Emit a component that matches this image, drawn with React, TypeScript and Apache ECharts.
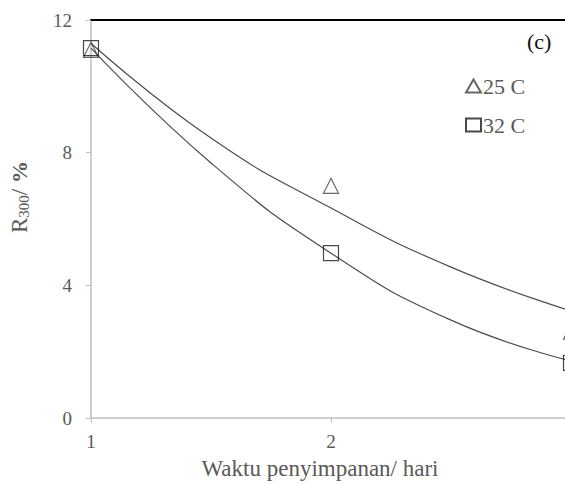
import React, { useEffect, useRef } from "react";
import * as echarts from "echarts";

const days = [1, 2, 3];
const r25 = [11.1, 7.0, 2.6];
const r32 = [11.15, 4.97, 1.66];
const fitX = [1, 1.5, 2, 2.5, 3];
const fit25 = [11.3, 8.44, 6.33, 4.55, 3.23];
const fit32 = [11.15, 7.69, 4.97, 2.95, 1.72];
const yTicks = [0, 4, 8, 12];

const FONT = "'Liberation Serif', 'Times New Roman', serif";
const GRAY = "#595959";

export default function App() {
  const ref = useRef<HTMLDivElement>(null);
  useEffect(() => {
    if (!ref.current) return;
    const chart = echarts.init(ref.current, undefined, { renderer: "svg" });
    const pts = (xs: number[], ys: number[]) => xs.map((x, i) => [x, ys[i]]);
    chart.setOption({
      animation: false,
      backgroundColor: "#ffffff",
      textStyle: { fontFamily: FONT },
      grid: { left: 91, right: -6, top: 20, bottom: 67, outerBoundsMode: "none", containLabel: false },
      legend: {
        orient: "vertical",
        left: 460,
        top: 70,
        itemWidth: 15,
        itemHeight: 13,
        itemGap: 17,
        textStyle: { fontFamily: FONT, fontSize: 22, color: GRAY, padding: [0, 0, 0, -3] },
        data: [
          { name: "25 C", icon: "triangle" },
          { name: "32 C", icon: "rect" },
        ],
      },
      xAxis: [
        {
          type: "value",
          min: 1,
          max: 3,
          interval: 1,
          name: "Waktu penyimpanan/ hari",
          nameLocation: "middle",
          nameGap: 39,
          nameTextStyle: { fontFamily: FONT, fontSize: 23, color: GRAY, padding: [0, 22, 0, 0] },
          axisLine: { show: true, lineStyle: { color: "#bfbfbf", width: 1.5 } },
          axisTick: { show: true, length: 5, lineStyle: { color: "#bfbfbf" } },
          axisLabel: {
            fontFamily: FONT,
            fontSize: 19,
            color: GRAY,
            margin: 14,
            formatter: (v: number) => (v >= 3 ? "" : String(v)),
          },
          splitLine: { show: false },
        },
        {
          type: "value",
          position: "top",
          min: 1,
          max: 3,
          axisLine: { show: true, onZero: false, lineStyle: { color: "#000000", width: 2 } },
          axisTick: { show: false },
          axisLabel: { show: false },
          splitLine: { show: false },
        },
      ],
      yAxis: {
        type: "value",
        min: 0,
        max: 12,
        interval: 4,
        name: "{r|R}{s|300}{r|/ }{b|%}",
        nameLocation: "middle",
        nameRotate: 90,
        nameGap: 60,
        nameTextStyle: {
          padding: [0, 0, 0, 44],
          rich: {
            r: { fontFamily: FONT, fontSize: 23, color: GRAY },
            s: { fontFamily: FONT, fontSize: 15, color: GRAY, verticalAlign: "bottom", padding: [9, 0, 0, 0] },
            b: { fontFamily: FONT, fontSize: 22, color: GRAY, fontWeight: "bold" },
          },
        },
        axisLine: { show: true, lineStyle: { color: "#bfbfbf", width: 1.5 } },
        axisTick: { show: true, length: 5, lineStyle: { color: "#bfbfbf" } },
        axisLabel: {
          fontFamily: FONT,
          fontSize: 19,
          color: GRAY,
          margin: 19,
          formatter: (v: number) => (yTicks.includes(v) ? String(v) : ""),
        },
        splitLine: { show: false },
      },
      series: [
        {
          name: "fit25",
          type: "line",
          smooth: true,
          showSymbol: false,
          data: pts(fitX, fit25),
          lineStyle: { color: "#4d4d4d", width: 1.2 },
          z: 1,
        },
        {
          name: "fit32",
          type: "line",
          smooth: true,
          showSymbol: false,
          data: pts(fitX, fit32),
          lineStyle: { color: "#4d4d4d", width: 1.2 },
          z: 1,
        },
        {
          name: "25 C",
          type: "scatter",
          symbol: "triangle",
          symbolSize: 15,
          clip: false,
          data: pts(days, r25),
          itemStyle: { color: "rgba(255,255,255,0)", borderColor: "#404040", borderWidth: 1.2 },
          z: 3,
        },
        {
          name: "32 C",
          type: "scatter",
          symbol: "rect",
          symbolSize: 15,
          clip: false,
          data: pts(days, r32),
          itemStyle: { color: "rgba(255,255,255,0)", borderColor: "#1a1a1a", borderWidth: 1.2 },
          z: 3,
        },
      ],
      graphic: [
        {
          type: "text",
          left: 527,
          top: 30,
          style: { text: "(c)", fontFamily: FONT, fontSize: 22, fill: "#111111" },
        },
      ],
    });
    return () => chart.dispose();
  }, []);
  return (
    <div
      ref={ref}
      style={{ position: "absolute", left: 0, top: 0, width: 565, height: 485 }}
    />
  );
}
